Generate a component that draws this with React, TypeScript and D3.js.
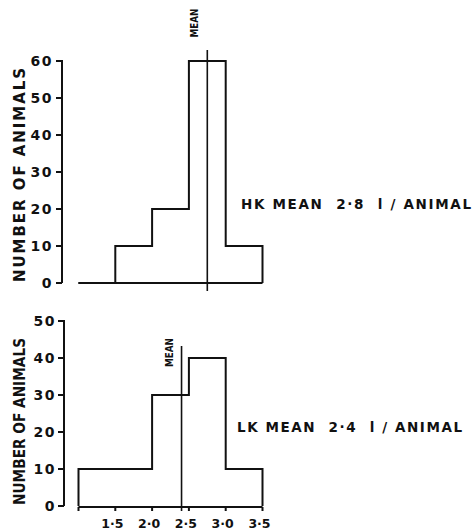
import React from "react";
import * as d3 from "d3";

const binEdges = [1.0, 1.5, 2.0, 2.5, 3.0, 3.5];
const hkCounts = [0, 10, 20, 60, 10];
const lkCounts = [10, 10, 30, 40, 10];
const hkMean = 2.75;
const lkMean = 2.4;
const hkTicks = [0, 10, 20, 30, 40, 50, 60];
const lkTicks = [0, 10, 20, 30, 40, 50];
const xTicks = [1.0, 1.5, 2.0, 2.5, 3.0, 3.5];
const xTickLabels = ["", "1·5", "2·0", "2·5", "3·0", "3·5"];
const hkLabel = "HK MEAN  2·8  l / ANIMAL";
const lkLabel = "LK MEAN  2·4  l / ANIMAL";
const yTitle = "NUMBER OF ANIMALS";

const FONT = "DejaVu Sans, sans-serif";
const INK = "#111";

function stepPath(counts: number[], x: d3.ScaleLinear<number, number>, y: d3.ScaleLinear<number, number>) {
  const pts: [number, number][] = [];
  pts.push([x(binEdges[0]), y(0)]);
  counts.forEach((c, i) => {
    pts.push([x(binEdges[i]), y(c)]);
    pts.push([x(binEdges[i + 1]), y(c)]);
  });
  pts.push([x(binEdges[binEdges.length - 1]), y(0)]);
  return d3.line()(pts) || "";
}

export default function App() {
  const x = d3.scaleLinear().domain([1.0, 3.5]).range([78.5, 262.5]);
  const yTop = d3.scaleLinear().domain([0, 60]).range([283, 61]);
  const yBot = d3.scaleLinear().domain([0, 50]).range([506, 321]);

  return (
    <svg width={472} height={531} style={{ position: "absolute", left: 0, top: 0, background: "#fff" }}>
      <g fill="none" stroke={INK} strokeWidth={2} strokeLinejoin="miter">
        {/* Top panel */}
        <line x1={62} x2={62} y1={yTop(60) - 1} y2={yTop(0)} />
        {hkTicks.map((t) => (
          <line key={"ht" + t} x1={56} x2={62} y1={yTop(t)} y2={yTop(t)} />
        ))}
        <line x1={x(1.0)} x2={x(3.5)} y1={yTop(0)} y2={yTop(0)} />
        <path d={stepPath(hkCounts, x, yTop)} />
        <line x1={x(hkMean)} x2={x(hkMean)} y1={50} y2={291} strokeWidth={1.6} />

        {/* Bottom panel */}
        <line x1={64} x2={64} y1={yBot(50) - 1} y2={yBot(0)} />
        {lkTicks.map((t) => (
          <line key={"lt" + t} x1={58} x2={64} y1={yBot(t)} y2={yBot(t)} />
        ))}
        <line x1={x(1.0)} x2={x(3.5)} y1={yBot(0) + 1} y2={yBot(0) + 1} />
        {xTicks.map((t) => (
          <line key={"xt" + t} x1={x(t)} x2={x(t)} y1={yBot(0) + 1} y2={yBot(0) + 5} />
        ))}
        <path d={stepPath(lkCounts, x, yBot)} />
        <line x1={x(lkMean)} x2={x(lkMean)} y1={346} y2={511} strokeWidth={1.6} />
      </g>

      <g fontFamily={FONT} fontWeight="bold" fill={INK}>
        {hkTicks.map((t) => (
          <text key={"hl" + t} x={53} y={yTop(t) + 5} fontSize={14} textAnchor="end" letterSpacing={1.5}>
            {t}
          </text>
        ))}
        {lkTicks.map((t) => (
          <text key={"ll" + t} x={56} y={yBot(t) + 5} fontSize={14} textAnchor="end" letterSpacing={1.5}>
            {t}
          </text>
        ))}
        {xTicks.map((t, i) => (
          <text key={"xl" + t} x={x(t) - 3} y={528} fontSize={12.5} textAnchor="middle">
            {xTickLabels[i]}
          </text>
        ))}

        <text
          transform={`translate(25,${(68 + 282) / 2}) rotate(-90)`}
          fontSize={15}
          textAnchor="middle"
          textLength={214}
          lengthAdjust="spacing"
        >
          {yTitle}
        </text>
        <text
          transform={`translate(25,${(338 + 505) / 2}) rotate(-90)`}
          fontSize={15}
          textAnchor="middle"
          textLength={167}
          lengthAdjust="spacingAndGlyphs"
        >
          {yTitle}
        </text>

        <text
          transform={`translate(198,23) rotate(-90)`}
          fontSize={11}
          textAnchor="middle"
          textLength={29}
          lengthAdjust="spacingAndGlyphs"
        >
          MEAN
        </text>
        <text
          transform={`translate(173,${(338 + 367) / 2}) rotate(-90)`}
          fontSize={11}
          textAnchor="middle"
          textLength={29}
          lengthAdjust="spacingAndGlyphs"
        >
          MEAN
        </text>

        <text x={241} y={209} fontSize={13.5} textLength={230} lengthAdjust="spacing" style={{ whiteSpace: "pre" }}>
          {hkLabel}
        </text>
        <text x={237} y={432} fontSize={13.5} textLength={225} lengthAdjust="spacing" style={{ whiteSpace: "pre" }}>
          {lkLabel}
        </text>
      </g>
    </svg>
  );
}
